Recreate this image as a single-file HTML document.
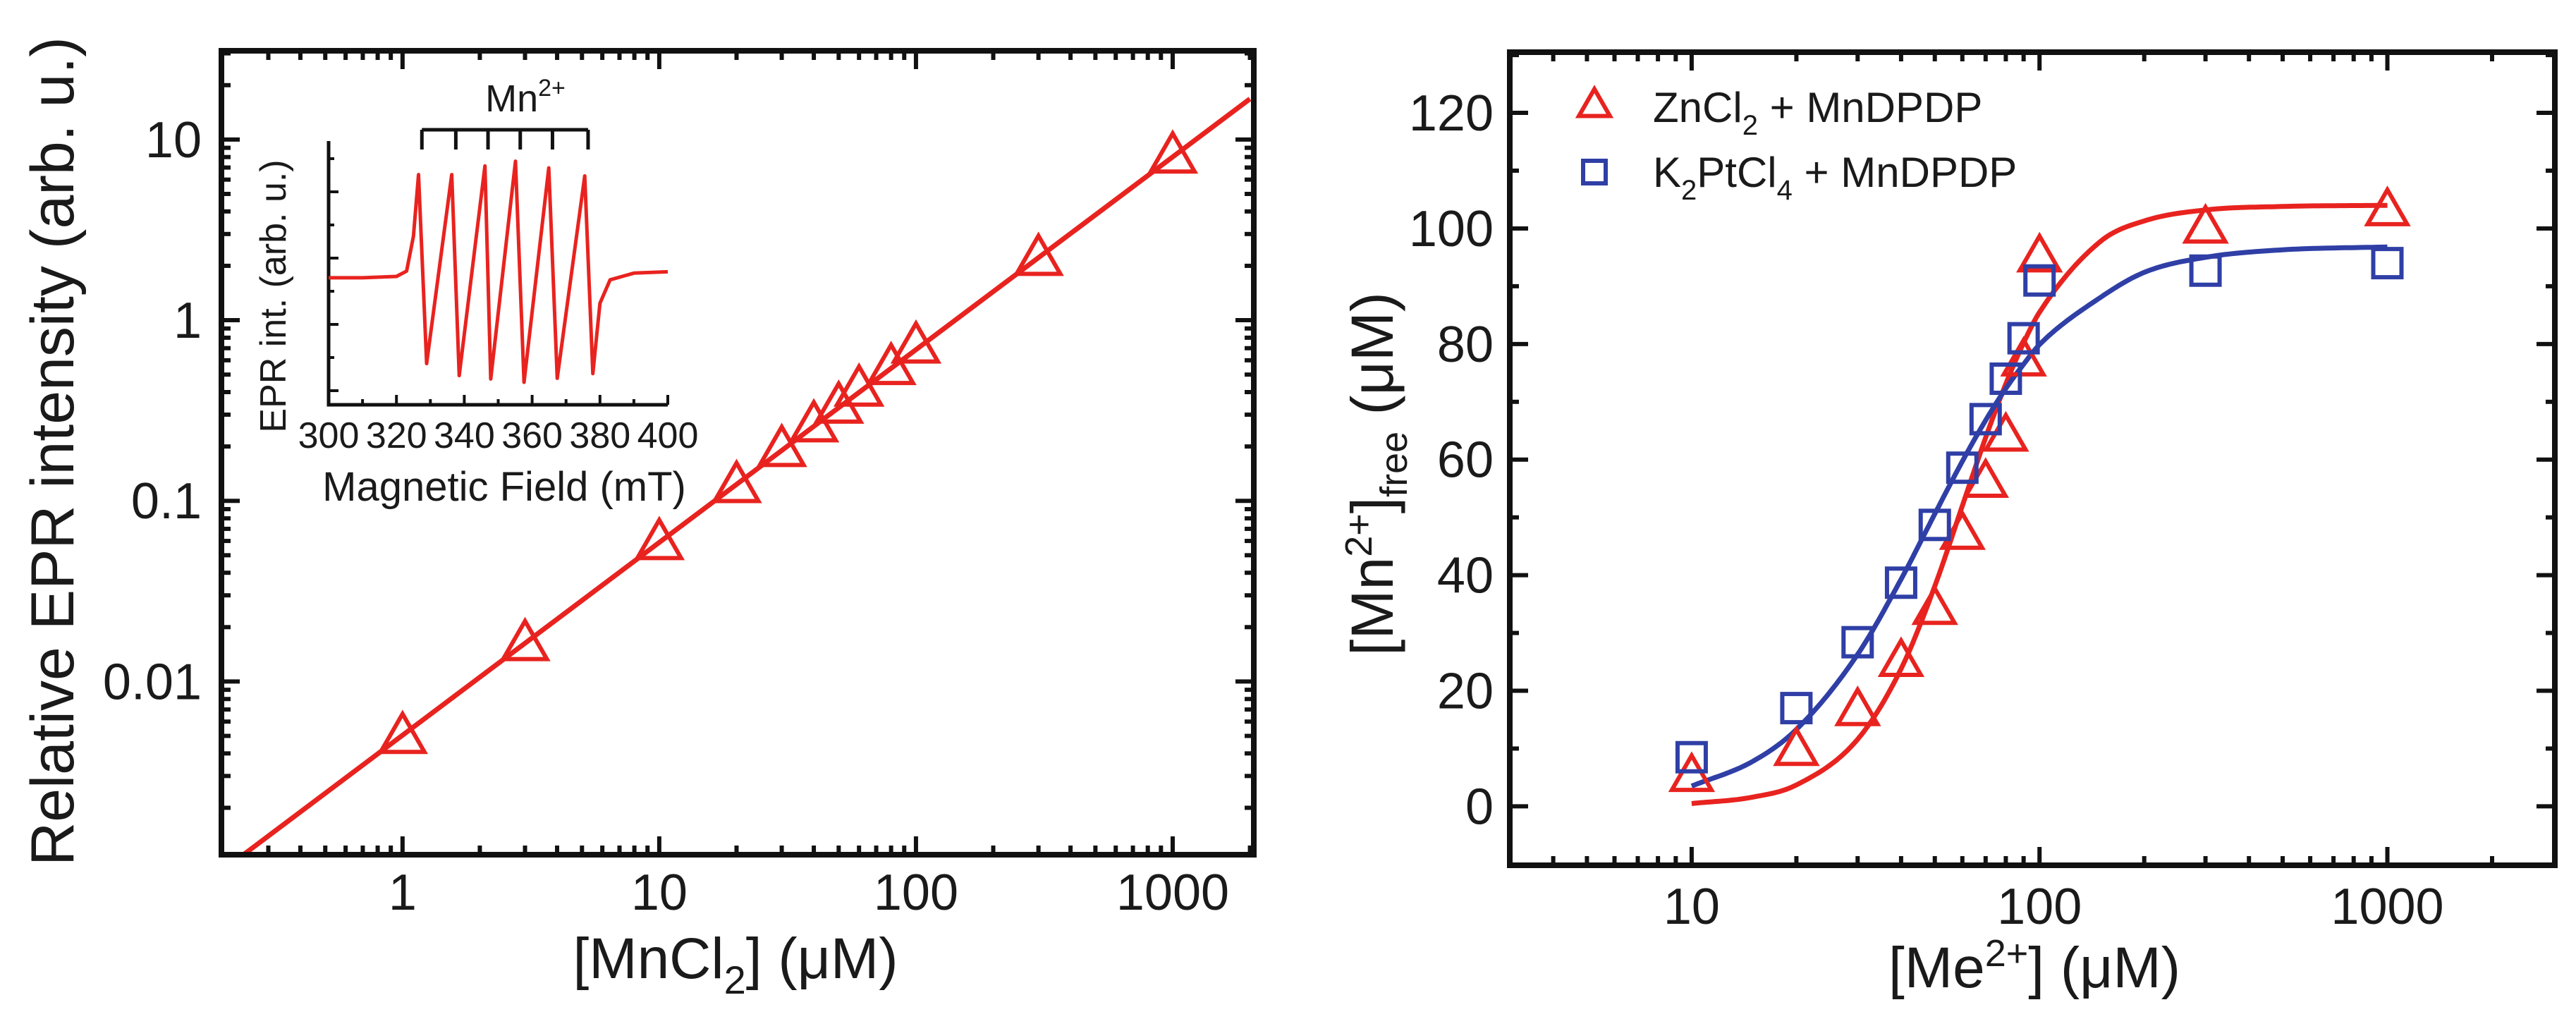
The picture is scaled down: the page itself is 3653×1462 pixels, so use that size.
<!DOCTYPE html>
<html><head><meta charset="utf-8">
<style>
html,body{margin:0;padding:0;background:#fff;}
svg{display:block;}
text{font-family:"Liberation Sans",Arial,sans-serif;fill:#1a1a1a;}
</style></head>
<body>
<svg id="fig" width="3653" height="1462" viewBox="0 0 3653 1462" xmlns="http://www.w3.org/2000/svg"></svg>
<script>
// ---------- Left panel data ----------
const mnConc = [1,3,10,20,30,40,50,60,80,100,300,1000];
const eprInt = [0.0049,0.016,0.058,0.12,0.19,0.26,0.33,0.41,0.54,0.71,2.17,8.0];
const fitX = [0.24,2000];
const fitY = [0.0011,16.8];
const leftXTicks = [1,10,100,1000];
const leftXTickLabels = ["1","10","100","1000"];
const leftYTicks = [0.01,0.1,1,10];
const leftYTickLabels = ["0.01","0.1","1","10"];
// inset spectrum (field mT, signal arb.)
const fieldMT = [300,310,320,323,325,326.5,328.9,336.3,338.5,346.1,347.8,355.1,357.6,364.9,367.4,375.5,377.9,380,383,390,400];
const signal  = [-2,-2,0,8,60,152,-130,152,-148,165,-153,172,-158,162,-152,150,-145,-40,-5,5,7];
const insetXTicks = [300,320,340,360,380,400];
const hfLines = [327.5,337.5,347,356.5,366,376.5];
// ---------- Right panel data ----------
const meConc = [10,20,30,40,50,60,70,80,90,100,300,1000];
const znFree = [5.1,9.6,16.5,25,34,47,56,64,77,95,100,103];
const ptFree = [8.5,17,28.4,38.7,48.7,58.6,67,74,81,91,92.7,94];
const curveX = [10,15,20,30,40,50,60,70,80,90,100,150,200,300,500,1000];
const znFit = [0.48,1.6,3.7,11.6,23.8,38.1,52,63.8,73.1,80.2,85.5,97.8,101.3,103.2,103.8,104];
const ptFit = [3.5,7.8,13.3,26.3,39.3,50.6,59.7,66.8,72.3,76.5,79.9,88.1,92.4,95,96.3,96.8];
const rightXTicks = [10,100,1000];
const rightXTickLabels = ["10","100","1000"];
const rightYTicks = [0,20,40,60,80,100,120];
const rightYTickLabels = ["0","20","40","60","80","100","120"];

const NS="http://www.w3.org/2000/svg";
const svg=document.getElementById('fig');
const RED="#e8231f", BLUE="#2f3fa6";
function mk(tag,attrs,parent){const e=document.createElementNS(NS,tag);for(const k in attrs)e.setAttribute(k,attrs[k]);(parent||svg).appendChild(e);return e;}
function txt(str,x,y,size,anchor,parent){const t=mk('text',{x:x,y:y,'font-size':size,'text-anchor':anchor||'middle'},parent);t.textContent=str;return t;}

// ===== LEFT PANEL =====
const L={x0:314,x1:1778,y0:72,y1:1212,xmin:Math.log10(0.197),xmax:Math.log10(2070),ymin:Math.log10(0.0011),ymax:Math.log10(31)};
const lx=v=>L.x0+(Math.log10(v)-L.xmin)/(L.xmax-L.xmin)*(L.x1-L.x0);
const ly=v=>L.y1-(Math.log10(v)-L.ymin)/(L.ymax-L.ymin)*(L.y1-L.y0);
const gL=mk('g',{});


const ticksL=mk('g',{stroke:'#111','stroke-width':6},gL);


for(let d=-1;d<=3;d++){for(let m=1;m<10;m++){const v=m*Math.pow(10,d);const x=lx(v);if(x<L.x0+3||x>L.x1-3)continue;const len=m===1?26:13;
mk('line',{x1:x,y1:L.y1,x2:x,y2:L.y1-len},ticksL);mk('line',{x1:x,y1:L.y0,x2:x,y2:L.y0+len},ticksL);}}
for(let d=-3;d<=1;d++){for(let m=1;m<10;m++){const v=m*Math.pow(10,d);const y=ly(v);if(y<L.y0+3||y>L.y1-3)continue;const len=m===1?26:13;
mk('line',{x1:L.x0,y1:y,x2:L.x0+len,y2:y},ticksL);mk('line',{x1:L.x1,y1:y,x2:L.x1-len,y2:y},ticksL);}}
leftXTicks.forEach((v,i)=>{const t=txt(leftXTickLabels[i],lx(v),1290,72,'middle',gL);});
leftYTicks.forEach((v,i)=>{const t=txt(leftYTickLabels[i],286,ly(v)+25,72,'end',gL);});
const fitL=mk('line',{x1:lx(fitX[0]),y1:ly(fitY[0]),x2:lx(fitX[1]),y2:ly(fitY[1]),stroke:RED,'stroke-width':7},gL);


function tri(cx,cy,s,color,parent){const h=s*0.87;return mk('polygon',{points:`${cx},${cy-h*0.62} ${cx-s/2},${cy+h*0.38} ${cx+s/2},${cy+h*0.38}`,fill:'none',stroke:color,'stroke-width':6,'stroke-linejoin':'miter'},parent);}
mnConc.forEach((c,i)=>{const p=tri(lx(c),ly(eprInt[i]),62,RED,gL);});
const fr=mk('rect',{x:L.x0,y:L.y0,width:L.x1-L.x0,height:L.y1-L.y0,fill:'none',stroke:'#111','stroke-width':8},gL);


const ylt=mk('text',{x:0,y:0,'font-size':86,'text-anchor':'middle',transform:'translate(104,640) rotate(-90)'},gL);
ylt.textContent='Relative EPR intensity (arb. u.)';


const xlt=mk('text',{x:1043,y:1387,'font-size':82,'text-anchor':'middle'},gL);
xlt.innerHTML='[MnCl<tspan font-size="56" dy="22">2</tspan><tspan dy="-22">] (μM)</tspan>';



// ===== INSET =====
const I={x0:466,x1:947,y0:200,y1:574};
const ix=v=>I.x0+(v-300)/100*(I.x1-I.x0);
const iy=v=>392-v*0.95;
const gI=mk('g',{},gL);


const iax=mk('path',{d:`M${I.x0},${I.y0} L${I.x0},${I.y1} L${I.x1},${I.y1}`,fill:'none',stroke:'#111','stroke-width':5},gI);


for(let v=300;v<=400;v+=10){const x=ix(v);mk('line',{x1:x,y1:I.y1,x2:x,y2:I.y1-(v%20===0?14:8),stroke:'#111','stroke-width':4},gI);}
for(let k=0;k<8;k++){const y=I.y1-20-k*47;mk('line',{x1:I.x0,y1:y,x2:I.x0+(k%2?8:14),y2:y,stroke:'#111','stroke-width':4},gI);}
insetXTicks.forEach(v=>{const t=txt(String(v),ix(v),635,52,'middle',gI);});
const ixt=txt('Magnetic Field (mT)',715,710,58,'middle',gI);


const iyt=mk('text',{x:0,y:0,'font-size':52,'text-anchor':'middle',transform:'translate(405,420) rotate(-90)'},gI);
iyt.textContent='EPR int. (arb. u.)';


let dS='';fieldMT.forEach((f,i)=>{dS+=(i?' L':'M')+ix(f).toFixed(1)+','+iy(signal[i]).toFixed(1);});
const sp=mk('path',{d:dS,fill:'none',stroke:RED,'stroke-width':5,'stroke-linejoin':'round'},gI);


const br=mk('g',{stroke:'#111','stroke-width':5,fill:'none'},gI);


mk('line',{x1:ix(hfLines[0]),y1:184,x2:ix(hfLines[hfLines.length-1]),y2:184},br);
hfLines.forEach(h=>mk('line',{x1:ix(h),y1:184,x2:ix(h),y2:212},br));
const mnl=mk('text',{x:745,y:158,'font-size':54,'text-anchor':'middle'},gI);
mnl.innerHTML='Mn<tspan font-size="34" dy="-22">2+</tspan>';



// ===== RIGHT PANEL =====
const R={x0:2141,x1:3623,y0:74,y1:1227,xmin:Math.log10(3.0),xmax:Math.log10(3030),ymin:-10.2,ymax:130.5};
const rx=v=>R.x0+(Math.log10(v)-R.xmin)/(R.xmax-R.xmin)*(R.x1-R.x0);
const ry=v=>R.y1-(v-R.ymin)/(R.ymax-R.ymin)*(R.y1-R.y0);
const gR=mk('g',{});


const ticksR=mk('g',{stroke:'#111','stroke-width':6},gR);


for(let d=0;d<=3;d++){for(let m=1;m<10;m++){const v=m*Math.pow(10,d);const x=rx(v);if(x<R.x0+3||x>R.x1-3)continue;const len=m===1?26:13;
mk('line',{x1:x,y1:R.y1,x2:x,y2:R.y1-len},ticksR);mk('line',{x1:x,y1:R.y0,x2:x,y2:R.y0+len},ticksR);}}
for(let v=-10;v<=130;v+=10){const y=ry(v);if(y<R.y0+3||y>R.y1-3)continue;const len=v%20===0?26:13;
mk('line',{x1:R.x0,y1:y,x2:R.x0+len,y2:y},ticksR);mk('line',{x1:R.x1,y1:y,x2:R.x1-len,y2:y},ticksR);}
rightXTicks.forEach((v,i)=>{const t=txt(rightXTickLabels[i],rx(v),1310,72,'middle',gR);});
rightYTicks.forEach((v,i)=>{const t=txt(rightYTickLabels[i],2118,ry(v)+25,72,'end',gR);});
// monotone cubic interpolation in log-x space
function monoPath(xs,ys){
  const X=xs.map(v=>Math.log10(v)),n=X.length,d=[],m=[];
  for(let i=0;i<n-1;i++)d.push((ys[i+1]-ys[i])/(X[i+1]-X[i]));
  m[0]=d[0];m[n-1]=d[n-2];
  for(let i=1;i<n-1;i++){m[i]=(d[i-1]*d[i]<=0)?0:(d[i-1]+d[i])/2;}
  for(let i=0;i<n-1;i++){if(d[i]===0){m[i]=m[i+1]=0;continue;}const a=m[i]/d[i],b=m[i+1]/d[i],s=a*a+b*b;if(s>9){const t=3/Math.sqrt(s);m[i]=t*a*d[i];m[i+1]=t*b*d[i];}}
  let path='';
  for(let i=0;i<n-1;i++){const h=X[i+1]-X[i];
    for(let k=0;k<=20;k++){if(i>0&&k===0)continue;const t=k/20,t2=t*t,t3=t2*t;
      const y=(2*t3-3*t2+1)*ys[i]+(t3-2*t2+t)*h*m[i]+(-2*t3+3*t2)*ys[i+1]+(t3-t2)*h*m[i+1];
      const xv=Math.pow(10,X[i]+t*h);
      path+=(path?' L':'M')+rx(xv).toFixed(1)+','+ry(y).toFixed(1);}}
  return path;}
const zf=mk('path',{d:monoPath(curveX,znFit),fill:'none',stroke:RED,'stroke-width':7,'stroke-linejoin':'round'},gR);


const pf=mk('path',{d:monoPath(curveX,ptFit),fill:'none',stroke:BLUE,'stroke-width':7,'stroke-linejoin':'round'},gR);


meConc.forEach((c,i)=>{const p=tri(rx(c),ry(znFree[i]),56,RED,gR);});
meConc.forEach((c,i)=>{const s=40;const p=mk('rect',{x:rx(c)-s/2,y:ry(ptFree[i])-s/2,width:s,height:s,fill:'none',stroke:BLUE,'stroke-width':6},gR);});
const frR=mk('rect',{x:R.x0,y:R.y0,width:R.x1-R.x0,height:R.y1-R.y0,fill:'none',stroke:'#111','stroke-width':8},gR);


const lg=mk('g',{},gR);


const le1=tri(2261,150,44,RED,lg);


const lt1=mk('text',{x:2344,y:173,'font-size':60},lg);
lt1.innerHTML='ZnCl<tspan font-size="40" dy="18">2</tspan><tspan dy="-18"> + MnDPDP</tspan>';


const le2=mk('rect',{x:2245,y:228,width:32,height:32,fill:'none',stroke:BLUE,'stroke-width':6},lg);


const lt2=mk('text',{x:2344,y:265,'font-size':60},lg);
lt2.innerHTML='K<tspan font-size="40" dy="18">2</tspan><tspan dy="-18">PtCl</tspan><tspan font-size="40" dy="18">4</tspan><tspan dy="-18"> + MnDPDP</tspan>';


const ryt=mk('text',{x:0,y:0,'font-size':84,'text-anchor':'middle',transform:'translate(1975,672) rotate(-90)'},gR);
ryt.innerHTML='[Mn<tspan font-size="54" dy="-30">2+</tspan><tspan dy="30">]</tspan><tspan font-size="54" dy="20">free</tspan><tspan dy="-20"> (μM)</tspan>';


const rxt=mk('text',{x:2885,y:1400,'font-size':82,'text-anchor':'middle'},gR);
rxt.innerHTML='[Me<tspan font-size="54" dy="-30">2+</tspan><tspan dy="30">] (μM)</tspan>';


</script>
</body></html>
